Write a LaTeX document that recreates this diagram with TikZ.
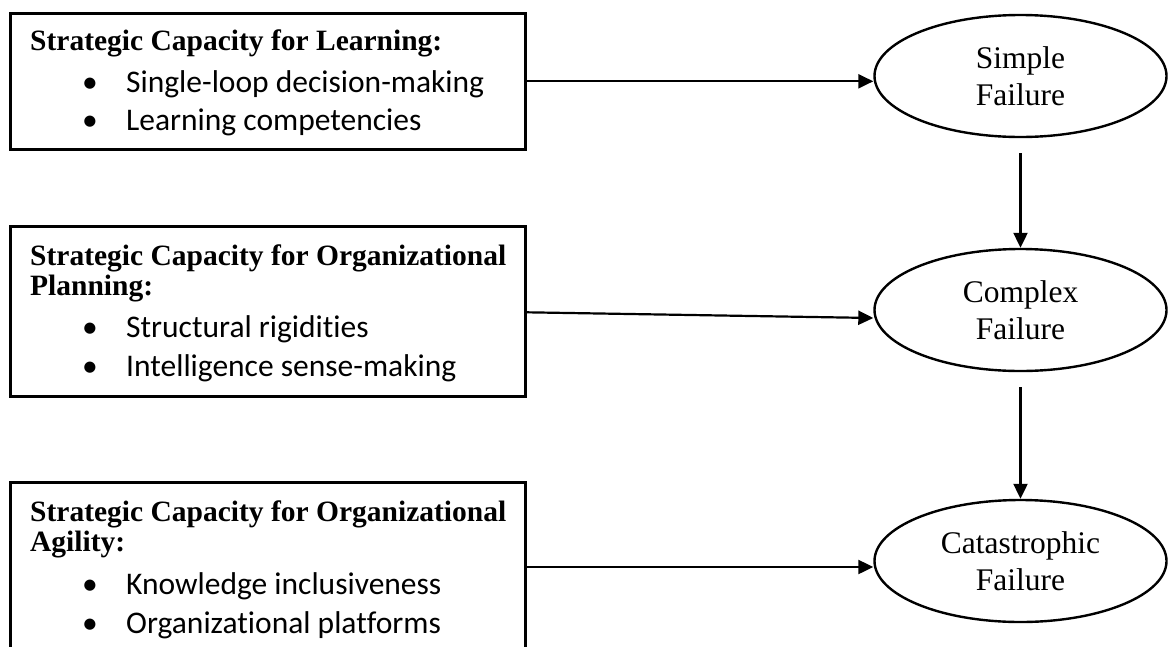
\documentclass[tikz,border=0pt]{standalone}
\usepackage{fontspec}
\setmainfont{Liberation Serif}
\newfontfamily\bulletfont{Carlito}[Ligatures=NoCommon]
\usetikzlibrary{arrows.meta,shapes.geometric}
\begin{document}
\begin{tikzpicture}[x=1pt,y=-1pt,
  capbox/.style={draw,line width=2.6pt,inner sep=0pt,anchor=north west,minimum width=515pt},
  failnode/.style={draw,ellipse,line width=2.4pt,inner sep=0pt,
    minimum width=292pt,minimum height=122pt,align=center,
    font=\fontsize{31.5}{37}\selectfont},
  headtext/.style={anchor=base west,inner sep=0pt,font=\bfseries\fontsize{29.5}{28}\selectfont},
  itemtext/.style={anchor=base west,inner sep=0pt,font=\bulletfont\fontsize{31.5}{38}\selectfont},
  link/.style={line width=2.2pt,-{Triangle[length=15pt,width=14pt]}}
]
\clip (0,0) rectangle (1170,646);

% capacity boxes
\node[capbox,minimum height=136pt] (b1) at (9,12) {};
\node[capbox,minimum height=170pt] (b2) at (9,225) {};
\node[capbox,minimum height=250pt] (b3) at (9,481) {};

% box texts
\newcommand{\itembullet}{\makebox[44pt][l]{\textbullet}}
\node[headtext] (h1) at (30,50) {Strategic Capacity for Learning:};
\node[itemtext] (i11) at (82,92) {\itembullet Single-loop decision-making};
\node[itemtext] (i12) at (82,130) {\itembullet Learning competencies};

\node[headtext] (h2a) at (30,265) {Strategic Capacity for Organizational};
\node[headtext] (h2b) at (30,295) {Planning:};
\node[itemtext] (i21) at (82,337) {\itembullet Structural rigidities};
\node[itemtext] (i22) at (82,376) {\itembullet Intelligence sense-making};

\node[headtext] (h3a) at (30,521) {Strategic Capacity for Organizational};
\node[headtext] (h3b) at (30,551) {Agility:};
\node[itemtext] (i31) at (82,594) {\itembullet Knowledge inclusiveness};
\node[itemtext] (i32) at (82,633) {\itembullet Organizational platforms};

% failure types
\node[failnode] (c1) at (1020.5,76) {Simple\\Failure};
\node[failnode] (c2) at (1020.5,310) {Complex\\Failure};
\node[failnode] (c3) at (1020.5,561) {Catastrophic\\Failure};

% connectors
\coordinate (s1) at (b1.east);
\coordinate (s2) at ([yshift=-1pt]b2.east);
\coordinate (s3) at (524,567);
\draw[link] (s1) -- (s1 -| c1.west);
\draw[link] (s2) -- ([yshift=-8pt]c2.west);
\draw[link] (s3) -- (s3 -| c3.west);
\draw[link] ([yshift=-15pt]c1.south) -- (c2.north);
\draw[link] ([yshift=-15pt]c2.south) -- (c3.north);
\end{tikzpicture}
\end{document}
